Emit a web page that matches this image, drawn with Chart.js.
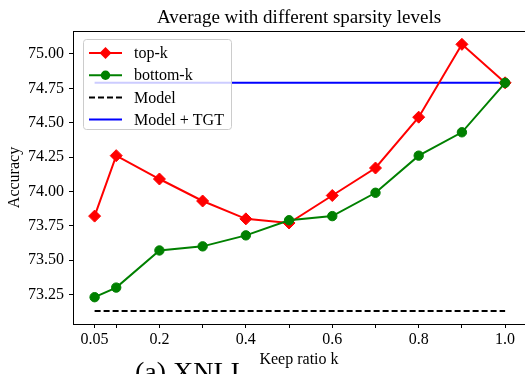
<!DOCTYPE html>
<html>
<head>
<meta charset="utf-8">
<script src="https://cdn.jsdelivr.net/npm/chart.js@4.4.0/dist/chart.umd.min.js"></script>
<style>
  html, body { margin: 0; padding: 0; background: #fff; }
</style>
</head>
<body>
<canvas id="chart" width="525" height="374"></canvas>
<script>
const keepRatios = [0.05, 0.1, 0.2, 0.3, 0.4, 0.5, 0.6, 0.7, 0.8, 0.9, 1.0];
const topK = [73.82, 74.26, 74.09, 73.93, 73.80, 73.77, 73.97, 74.17, 74.54, 75.07, 74.79];
const bottomK = [73.23, 73.30, 73.57, 73.60, 73.68, 73.79, 73.82, 73.99, 74.26, 74.43, 74.79];
const modelAcc = 73.13;
const modelTgtAcc = 74.79;
const seriesNames = ['top-k', 'bottom-k', 'Model', 'Model + TGT'];
const xTicks = [0.05, 0.1, 0.2, 0.3, 0.4, 0.5, 0.6, 0.7, 0.8, 0.9, 1.0];
const xTickLabels = ['0.05', '', '0.2', '', '0.4', '', '0.6', '', '0.8', '', '1.0'];
const yTicks = [73.25, 73.5, 73.75, 74.0, 74.25, 74.5, 74.75, 75.0];

const SERIF = '"Liberation Serif", "DejaVu Serif", serif';
Chart.defaults.font.family = SERIF;
Chart.defaults.font.size = 16;
Chart.defaults.color = '#000';

const xFirst = keepRatios[0];
const xLast = keepRatios[keepRatios.length - 1];

// title over the axes, legend box, top spine and the cut-off subcaption
const extras = {
  id: 'extras',
  afterDatasetsDraw(chart) {
    const ctx = chart.ctx;
    const area = chart.chartArea;
    ctx.save();
    ctx.beginPath();
    ctx.roundRect(83.5, 39.5, 148, 90, 3);
    ctx.fillStyle = 'rgba(255,255,255,0.8)';
    ctx.fill();
    ctx.strokeStyle = '#cccccc';
    ctx.lineWidth = 1;
    ctx.stroke();

    chart.data.datasets.forEach((ds, i) => {
      const y = 53 + i * 22.2;
      ctx.strokeStyle = ds.borderColor;
      ctx.lineWidth = ds.borderWidth;
      ctx.setLineDash(ds.borderDash || []);
      ctx.beginPath();
      ctx.moveTo(89, y);
      ctx.lineTo(122, y);
      ctx.stroke();
      ctx.setLineDash([]);
      const r = ds.pointRadius;
      if (r > 0) {
        ctx.fillStyle = ds.pointBackgroundColor;
        ctx.beginPath();
        if (ds.pointStyle === 'rectRot') {
          ctx.moveTo(105.5 - r, y);
          ctx.lineTo(105.5, y - r);
          ctx.lineTo(105.5 + r, y);
          ctx.lineTo(105.5, y + r);
          ctx.closePath();
        } else {
          ctx.arc(105.5, y, r, 0, Math.PI * 2);
        }
        ctx.fill();
      }
      ctx.fillStyle = '#000';
      ctx.font = '16px ' + SERIF;
      ctx.textBaseline = 'middle';
      ctx.textAlign = 'left';
      ctx.fillText(ds.label, 134, y + 1);
    });

    ctx.strokeStyle = '#000';
    ctx.lineWidth = 1;
    ctx.beginPath();
    ctx.moveTo(area.left, area.top + 0.5);
    ctx.lineTo(area.right, area.top + 0.5);
    ctx.stroke();

    ctx.fillStyle = '#000';
    ctx.textBaseline = 'alphabetic';
    ctx.textAlign = 'center';
    ctx.font = '19px ' + SERIF;
    ctx.fillText('Average with different sparsity levels', (area.left + area.right) / 2, 23);

    ctx.textAlign = 'left';
    ctx.font = '28px ' + SERIF;
    ctx.fillText('(a) XNLI', 135, 381);
    ctx.restore();
  }
};

new Chart(document.getElementById('chart'), {
  type: 'line',
  data: {
    datasets: [
      {
        label: seriesNames[0],
        data: keepRatios.map((k, i) => ({ x: k, y: topK[i] })),
        borderColor: '#ff0000',
        backgroundColor: '#ff0000',
        pointBackgroundColor: '#ff0000',
        pointBorderColor: '#ff0000',
        pointStyle: 'rectRot',
        pointRadius: 6,
        pointBorderWidth: 1,
        borderWidth: 2,
        order: 1,
      },
      {
        label: seriesNames[1],
        data: keepRatios.map((k, i) => ({ x: k, y: bottomK[i] })),
        borderColor: '#008000',
        backgroundColor: '#008000',
        pointBackgroundColor: '#008000',
        pointBorderColor: '#008000',
        pointStyle: 'circle',
        pointRadius: 4.7,
        pointBorderWidth: 1,
        borderWidth: 2,
        order: 0,
      },
      {
        label: seriesNames[2],
        data: [{ x: xFirst, y: modelAcc }, { x: xLast, y: modelAcc }],
        borderColor: '#000000',
        borderDash: [6, 3],
        pointRadius: 0,
        borderWidth: 2,
        order: 3,
      },
      {
        label: seriesNames[3],
        data: [{ x: xFirst, y: modelTgtAcc }, { x: xLast, y: modelTgtAcc }],
        borderColor: '#0000ff',
        pointRadius: 0,
        borderWidth: 2,
        order: 2,
      },
    ],
  },
  options: {
    responsive: false,
    animation: false,
    layout: { autoPadding: false, padding: { top: 31, left: 0, right: 0, bottom: 0 } },
    plugins: {
      legend: { display: false },
      tooltip: { enabled: false },
    },
    scales: {
      x: {
        type: 'linear',
        min: 0,
        max: 1.046,
        afterFit: scale => {
          scale.height = 50;
          scale.paddingLeft = 0;
          scale.paddingRight = 0;
        },
        afterBuildTicks: scale => { scale.ticks = xTicks.map(v => ({ value: v })); },
        ticks: {
          autoSkip: false,
          maxRotation: 0,
          padding: 2,
          callback: (v, i) => xTickLabels[i],
        },
        grid: { drawOnChartArea: false, tickLength: 4, color: '#000' },
        border: { display: true, color: '#000', width: 1 },
        title: {
          display: true,
          text: 'Keep ratio k',
          font: { size: 16 },
          padding: { top: 0, bottom: 5 },
        },
      },
      y: {
        type: 'linear',
        min: 73.035,
        max: 75.167,
        afterFit: scale => {
          scale.width = 73;
          scale.paddingTop = 0;
          scale.paddingBottom = 0;
        },
        afterBuildTicks: scale => { scale.ticks = yTicks.map(v => ({ value: v })); },
        ticks: {
          padding: 5,
          callback: v => v.toFixed(2),
        },
        grid: { drawOnChartArea: false, tickLength: 4, color: '#000' },
        border: { display: true, color: '#000', width: 1 },
        title: {
          display: true,
          text: 'Accuracy',
          font: { size: 16 },
          padding: { top: 5.5, bottom: 0 },
        },
      },
    },
  },
  plugins: [extras],
});
</script>
</body>
</html>
